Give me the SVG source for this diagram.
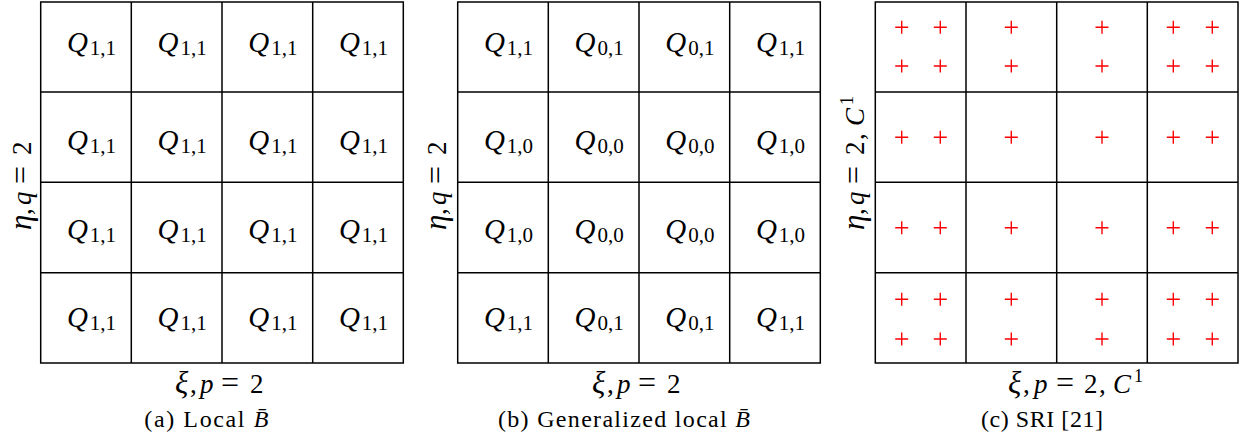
<svg xmlns="http://www.w3.org/2000/svg" xmlns:xlink="http://www.w3.org/1999/xlink" width="1242" height="438" viewBox="0 0 1242 438">
<style>
.grid{fill:none;stroke:#000;stroke-width:1.5}
.q{font-family:"Liberation Serif",serif;font-size:29px;font-style:italic;text-anchor:middle;fill:#000}
.sub{font-size:21px;font-style:normal}
.lbl{font-family:"Liberation Serif",serif;font-size:27px;fill:#000}
.gr{font-size:31px}
.eq{font-size:32px}
.cap{font-family:"Liberation Serif",serif;font-size:24px;fill:#000}
.i{font-style:italic}
.sup{font-size:18px}
</style>
<defs>
<path id="plus" d="M-6.5,0H6.5M0,-6.5V6.5" stroke="#ff0000" stroke-width="1.4" fill="none"/>
</defs>
<rect width="1242" height="438" fill="#fff"/>

<g id="panel-a">
<g id="grid-a" class="grid">
<rect x="40.7" y="2" width="362.6" height="361"/>
<path d="M131.3,2V363M222,2V363M312.7,2V363M40.7,92H403.3M40.7,182.3H403.3M40.7,272.7H403.3"/>
</g>
<g id="cells-a">
<text class="q" x="91.5" y="51.5">Q<tspan class="sub" dx="2" dy="3.5">1,1</tspan></text>
<text class="q" x="182.1" y="51.5">Q<tspan class="sub" dx="2" dy="3.5">1,1</tspan></text>
<text class="q" x="272.8" y="51.5">Q<tspan class="sub" dx="2" dy="3.5">1,1</tspan></text>
<text class="q" x="363.5" y="51.5">Q<tspan class="sub" dx="2" dy="3.5">1,1</tspan></text>
<text class="q" x="91.5" y="149.5">Q<tspan class="sub" dx="2" dy="3.5">1,1</tspan></text>
<text class="q" x="182.1" y="149.5">Q<tspan class="sub" dx="2" dy="3.5">1,1</tspan></text>
<text class="q" x="272.8" y="149.5">Q<tspan class="sub" dx="2" dy="3.5">1,1</tspan></text>
<text class="q" x="363.5" y="149.5">Q<tspan class="sub" dx="2" dy="3.5">1,1</tspan></text>
<text class="q" x="91.5" y="238.5">Q<tspan class="sub" dx="2" dy="3.5">1,1</tspan></text>
<text class="q" x="182.1" y="238.5">Q<tspan class="sub" dx="2" dy="3.5">1,1</tspan></text>
<text class="q" x="272.8" y="238.5">Q<tspan class="sub" dx="2" dy="3.5">1,1</tspan></text>
<text class="q" x="363.5" y="238.5">Q<tspan class="sub" dx="2" dy="3.5">1,1</tspan></text>
<text class="q" x="91.5" y="326.5">Q<tspan class="sub" dx="2" dy="3.5">1,1</tspan></text>
<text class="q" x="182.1" y="326.5">Q<tspan class="sub" dx="2" dy="3.5">1,1</tspan></text>
<text class="q" x="272.8" y="326.5">Q<tspan class="sub" dx="2" dy="3.5">1,1</tspan></text>
<text class="q" x="363.5" y="326.5">Q<tspan class="sub" dx="2" dy="3.5">1,1</tspan></text>
</g>
<text id="xlabel-a" class="lbl" y="393"><tspan class="i gr" x="175">ξ</tspan><tspan x="190">,</tspan><tspan class="i" x="200">p</tspan><tspan class="eq" x="221">=</tspan><tspan x="250">2</tspan></text>
<text id="ylabel-a" class="lbl" transform="translate(31,230) rotate(-90)" y="0"><tspan class="i gr" x="0">η</tspan><tspan x="15">,</tspan><tspan class="i" x="25">q</tspan><tspan class="eq" x="46">=</tspan><tspan x="75">2</tspan></text>
<text id="caption-a" class="cap" x="144.3" y="427" textLength="124" lengthAdjust="spacing">(a) Local <tspan class="i">B̄</tspan></text>
</g>

<g id="panel-b">
<g id="grid-b" class="grid">
<rect x="457.7" y="2" width="362.6" height="361"/>
<path d="M548.3,2V363M639,2V363M729.7,2V363M457.7,92H820.3M457.7,182.3H820.3M457.7,272.7H820.3"/>
</g>
<g id="cells-b">
<text class="q" x="508.5" y="51.5">Q<tspan class="sub" dx="2" dy="3.5">1,1</tspan></text>
<text class="q" x="599.2" y="51.5">Q<tspan class="sub" dx="2" dy="3.5">0,1</tspan></text>
<text class="q" x="689.8" y="51.5">Q<tspan class="sub" dx="2" dy="3.5">0,1</tspan></text>
<text class="q" x="780.5" y="51.5">Q<tspan class="sub" dx="2" dy="3.5">1,1</tspan></text>
<text class="q" x="508.5" y="149.5">Q<tspan class="sub" dx="2" dy="3.5">1,0</tspan></text>
<text class="q" x="599.2" y="149.5">Q<tspan class="sub" dx="2" dy="3.5">0,0</tspan></text>
<text class="q" x="689.8" y="149.5">Q<tspan class="sub" dx="2" dy="3.5">0,0</tspan></text>
<text class="q" x="780.5" y="149.5">Q<tspan class="sub" dx="2" dy="3.5">1,0</tspan></text>
<text class="q" x="508.5" y="238.5">Q<tspan class="sub" dx="2" dy="3.5">1,0</tspan></text>
<text class="q" x="599.2" y="238.5">Q<tspan class="sub" dx="2" dy="3.5">0,0</tspan></text>
<text class="q" x="689.8" y="238.5">Q<tspan class="sub" dx="2" dy="3.5">0,0</tspan></text>
<text class="q" x="780.5" y="238.5">Q<tspan class="sub" dx="2" dy="3.5">1,0</tspan></text>
<text class="q" x="508.5" y="326.5">Q<tspan class="sub" dx="2" dy="3.5">1,1</tspan></text>
<text class="q" x="599.2" y="326.5">Q<tspan class="sub" dx="2" dy="3.5">0,1</tspan></text>
<text class="q" x="689.8" y="326.5">Q<tspan class="sub" dx="2" dy="3.5">0,1</tspan></text>
<text class="q" x="780.5" y="326.5">Q<tspan class="sub" dx="2" dy="3.5">1,1</tspan></text>
</g>
<text id="xlabel-b" class="lbl" y="393"><tspan class="i gr" x="592">ξ</tspan><tspan x="607">,</tspan><tspan class="i" x="617">p</tspan><tspan class="eq" x="638">=</tspan><tspan x="667">2</tspan></text>
<text id="ylabel-b" class="lbl" transform="translate(446,230) rotate(-90)" y="0"><tspan class="i gr" x="0">η</tspan><tspan x="15">,</tspan><tspan class="i" x="25">q</tspan><tspan class="eq" x="46">=</tspan><tspan x="75">2</tspan></text>
<text id="caption-b" class="cap" x="498" y="427" textLength="252" lengthAdjust="spacing">(b) Generalized local <tspan class="i">B̄</tspan></text>
</g>

<g id="panel-c">
<g id="grid-c" class="grid">
<rect x="875.3" y="2" width="362.7" height="361"/>
<path d="M966,2V363M1056.7,2V363M1147.3,2V363M875.3,92H1238M875.3,182.3H1238M875.3,272.7H1238"/>
</g>
<g id="points-c">
<use href="#plus" x="901.7" y="27.3"/><use href="#plus" x="940.3" y="27.3"/><use href="#plus" x="1011.3" y="27.3"/><use href="#plus" x="1102" y="27.3"/><use href="#plus" x="1173.3" y="27.3"/><use href="#plus" x="1212.3" y="27.3"/>
<use href="#plus" x="901.7" y="66"/><use href="#plus" x="940.3" y="66"/><use href="#plus" x="1011.3" y="66"/><use href="#plus" x="1102" y="66"/><use href="#plus" x="1173.3" y="66"/><use href="#plus" x="1212.3" y="66"/>
<use href="#plus" x="901.7" y="137.3"/><use href="#plus" x="940.3" y="137.3"/><use href="#plus" x="1011.3" y="137.3"/><use href="#plus" x="1102" y="137.3"/><use href="#plus" x="1173.3" y="137.3"/><use href="#plus" x="1212.3" y="137.3"/>
<use href="#plus" x="901.7" y="227.7"/><use href="#plus" x="940.3" y="227.7"/><use href="#plus" x="1011.3" y="227.7"/><use href="#plus" x="1102" y="227.7"/><use href="#plus" x="1173.3" y="227.7"/><use href="#plus" x="1212.3" y="227.7"/>
<use href="#plus" x="901.7" y="299.3"/><use href="#plus" x="940.3" y="299.3"/><use href="#plus" x="1011.3" y="299.3"/><use href="#plus" x="1102" y="299.3"/><use href="#plus" x="1173.3" y="299.3"/><use href="#plus" x="1212.3" y="299.3"/>
<use href="#plus" x="901.7" y="339"/><use href="#plus" x="940.3" y="339"/><use href="#plus" x="1011.3" y="339"/><use href="#plus" x="1102" y="339"/><use href="#plus" x="1173.3" y="339"/><use href="#plus" x="1212.3" y="339"/>
</g>
<text id="xlabel-c" class="lbl" y="393"><tspan class="i gr" x="1008">ξ</tspan><tspan x="1023">,</tspan><tspan class="i" x="1034">p</tspan><tspan class="eq" x="1056">=</tspan><tspan x="1084">2</tspan><tspan x="1099">,</tspan><tspan class="i" x="1113">C</tspan><tspan class="sup" x="1134" dy="-11">1</tspan></text>
<text id="ylabel-c" class="lbl" transform="translate(863.5,230) rotate(-90)" y="0"><tspan class="i gr" x="0">η</tspan><tspan x="15">,</tspan><tspan class="i" x="25">q</tspan><tspan class="eq" x="46">=</tspan><tspan x="75">2</tspan><tspan x="90">,</tspan><tspan class="i" x="104">C</tspan><tspan class="sup" x="125" dy="-11">1</tspan></text>
<text id="caption-c" class="cap" x="981" y="427" textLength="122" lengthAdjust="spacing">(c) SRI [21]</text>
</g>
</svg>
